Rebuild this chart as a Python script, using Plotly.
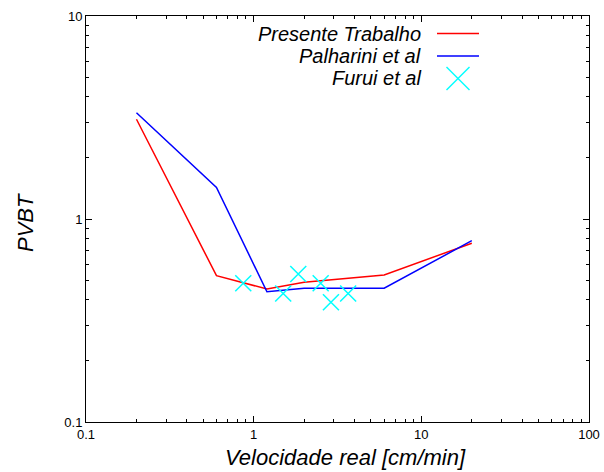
import plotly.graph_objects as go

# Data
vel_presente = [0.2, 0.6, 1.2, 2.0, 6.0, 20.0]
pvbt_presente = [3.1, 0.526, 0.452, 0.488, 0.53, 0.76]

vel_palharini = [0.2, 0.6, 1.2, 2.0, 6.0, 20.0]
pvbt_palharini = [3.34, 1.43, 0.438, 0.456, 0.456, 0.782]

vel_furui = [0.867, 1.50, 1.845, 2.51, 2.89, 3.66]
pvbt_furui = [0.482, 0.43, 0.536, 0.482, 0.389, 0.43]

x_ticks = [0.1, 1, 10, 100]
x_ticklabels = ["0.1", "1", "10", "100"]
y_ticks = [0.1, 1, 10]
y_ticklabels = ["0.1", "1", "10"]

legend_names = ["Presente Trabalho", "Palharini et al", "Furui et al"]
colors = ["#ff0000", "#0000ff", "#00ffff"]

FONT = "Liberation Sans, Arial, Helvetica, sans-serif"

fig = go.Figure()
fig.add_trace(go.Scatter(x=vel_presente, y=pvbt_presente, mode="lines",
                         line=dict(color=colors[0], width=1.5), name=legend_names[0]))
fig.add_trace(go.Scatter(x=vel_palharini, y=pvbt_palharini, mode="lines",
                         line=dict(color=colors[1], width=1.5), name=legend_names[1]))
fig.add_trace(go.Scatter(x=vel_furui, y=pvbt_furui, mode="markers",
                         marker=dict(symbol="x-thin", size=16, color=colors[2],
                                     line=dict(color=colors[2], width=1.5)),
                         name=legend_names[2]))

def minor_vals(lo, hi):
    vals = []
    d = lo
    while d < hi:
        for k in range(2, 10):
            vals.append(k * d)
        d *= 10
    return vals

axis_common = dict(
    type="log", showgrid=False, zeroline=False, automargin=False,
    showline=True, linecolor="black", linewidth=1, mirror="allticks",
    ticks="inside", ticklen=6, tickcolor="black", tickwidth=1,
    tickfont=dict(family=FONT, size=13, color="black"),
)

fig.update_xaxes(**axis_common, range=[-1, 2], tickmode="array",
                 tickvals=x_ticks, ticktext=x_ticklabels,
                 minor=dict(ticks="inside", ticklen=3, tickcolor="black",
                            tickvals=minor_vals(0.1, 100)))
fig.update_yaxes(**axis_common, range=[-1, 1], tickmode="array",
                 tickvals=y_ticks, ticktext=y_ticklabels,
                 minor=dict(ticks="inside", ticklen=3, tickcolor="black",
                            tickvals=minor_vals(0.1, 10)))

W, H = 604, 472
ml, mr, mt, mb = 86, 15, 16, 50
pw, ph = W - ml - mr, H - mt - mb

def px_x(px):
    return (px - ml) / pw

def px_y(py):
    return 1 - (py - mt) / ph

annotations = []
# axis titles
annotations.append(dict(text="<i>Velocidade real [cm/min]</i>", xref="paper", yref="paper",
                        x=px_x(345), y=px_y(458), xanchor="center", yanchor="middle",
                        showarrow=False, font=dict(family=FONT, size=22, color="black")))
annotations.append(dict(text="<i>PVBT</i>", xref="paper", yref="paper",
                        x=px_x(25), y=px_y(223), xanchor="center", yanchor="middle",
                        textangle=-90, showarrow=False,
                        font=dict(family=FONT, size=22, color="black")))

# manual legend (text right-aligned, sample on the right, gnuplot style)
rows_y = [33.5, 56, 78.5]
shapes = []
for i, name in enumerate(legend_names):
    annotations.append(dict(text="<i>%s</i>" % name, xref="paper", yref="paper",
                            x=px_x(422), y=px_y(rows_y[i]), xanchor="right", yanchor="middle",
                            borderpad=0,
                            showarrow=False, font=dict(family=FONT, size=20, color="black")))
for i in range(2):
    shapes.append(dict(type="line", xref="paper", yref="paper",
                       x0=px_x(437), x1=px_x(479), y0=px_y(rows_y[i]), y1=px_y(rows_y[i]),
                       line=dict(color=colors[i], width=1.5)))
cx, cy, r = 458, rows_y[2], 11.5
shapes.append(dict(type="line", xref="paper", yref="paper",
                   x0=px_x(cx - r), x1=px_x(cx + r), y0=px_y(cy - r), y1=px_y(cy + r),
                   line=dict(color=colors[2], width=1.5)))
shapes.append(dict(type="line", xref="paper", yref="paper",
                   x0=px_x(cx - r), x1=px_x(cx + r), y0=px_y(cy + r), y1=px_y(cy - r),
                   line=dict(color=colors[2], width=1.5)))

fig.update_layout(
    width=W, height=H,
    margin=dict(l=ml, r=mr, t=mt, b=mb, autoexpand=False),
    paper_bgcolor="white", plot_bgcolor="white",
    showlegend=False,
    annotations=annotations, shapes=shapes,
    font=dict(family=FONT, color="black"),
)

fig.write_html("out.html")
